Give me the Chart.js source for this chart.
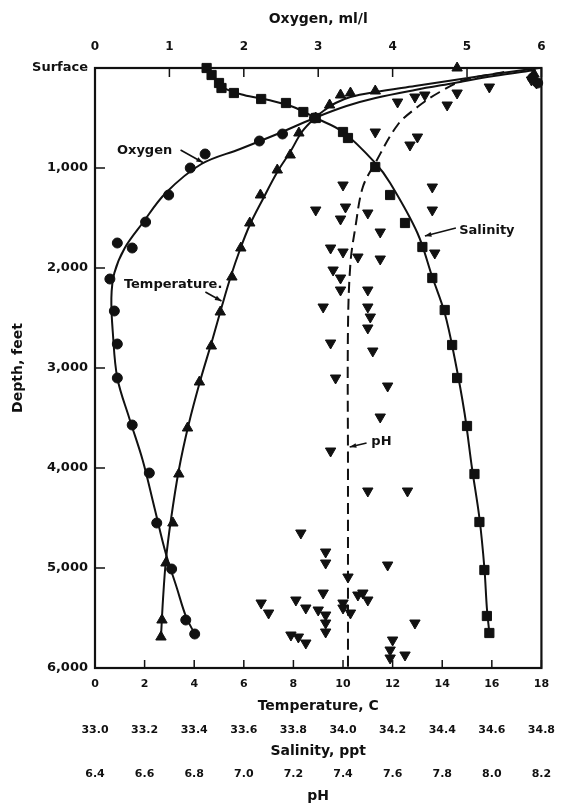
<!DOCTYPE html>
<html>
<head>
<meta charset="utf-8">
<title>Depth profiles: oxygen, temperature, salinity, pH</title>
<script src="https://cdn.jsdelivr.net/npm/chart.js@4.4.1/dist/chart.umd.min.js"></script>
<style>
  html, body { margin: 0; padding: 0; background: #fff; }
  canvas { display: block; }
</style>
</head>
<body>
<canvas id="profile" width="563" height="810"></canvas>
<script>
// ---- Axis ticks ----
const depthTicks = [0, 1000, 2000, 3000, 4000, 5000, 6000];
const depthLabels = ['Surface', '1,000', '2,000', '3,000', '4,000', '5,000', '6,000'];
const oxygenTicks = [0, 1, 2, 3, 4, 5, 6];
const temperatureTicks = [0, 2, 4, 6, 8, 10, 12, 14, 16, 18];
const salinityTicks = [33.0, 33.2, 33.4, 33.6, 33.8, 34.0, 34.2, 34.4, 34.6, 34.8];
const phTicks = [6.4, 6.6, 6.8, 7.0, 7.2, 7.4, 7.6, 7.8, 8.0, 8.2];

// ---- Oxygen, ml/l ----
const oxygenObs      = [5.95, 5.88, 2.95, 2.52, 2.21, 1.48, 1.28, 0.99, 0.68, 0.30, 0.50, 0.20, 0.26, 0.30, 0.30, 0.50, 0.73, 0.83, 1.03, 1.22, 1.34];
const oxygenObsDepth = [150, 100, 500, 660, 730, 860, 1000, 1270, 1540, 1750, 1800, 2110, 2430, 2760, 3100, 3570, 4050, 4550, 5010, 5520, 5660];
const oxygenCurve      = [5.92, 5.36, 4.83, 4.30, 3.77, 3.38, 2.95, 2.45, 1.95, 1.43, 0.95, 0.64, 0.40, 0.26, 0.22, 0.24, 0.30, 0.46, 0.64, 0.80, 0.95, 1.10, 1.22, 1.34];
const oxygenCurveDepth = [20, 80, 150, 220, 300, 380, 500, 660, 810, 960, 1250, 1550, 1800, 2050, 2300, 2650, 3100, 3500, 3920, 4400, 4850, 5200, 5480, 5660];

// ---- Temperature, C ----
const temperatureObs      = [14.6, 17.7, 11.3, 10.3, 9.9, 9.46, 8.9, 8.22, 7.87, 7.35, 6.67, 6.24, 5.88, 5.52, 5.05, 4.69, 4.21, 3.73, 3.38, 3.14, 2.86, 2.70, 2.66];
const temperatureObsDepth = [0, 60, 230, 250, 270, 370, 500, 650, 870, 1020, 1270, 1550, 1800, 2090, 2440, 2780, 3140, 3600, 4060, 4550, 4950, 5520, 5690];
const temperatureCurve      = [17.9, 16.1, 14.5, 12.9, 11.3, 10.3, 9.7, 9.26, 8.86, 8.34, 7.87, 7.35, 6.75, 6.24, 5.84, 5.48, 5.13, 4.73, 4.25, 3.77, 3.38, 3.06, 2.86, 2.74, 2.66];
const temperatureCurveDepth = [0, 60, 120, 180, 240, 290, 350, 420, 500, 640, 840, 1040, 1320, 1570, 1820, 2080, 2370, 2720, 3120, 3570, 4020, 4520, 4920, 5320, 5690];

// ---- Salinity, ppt ----
const salinityObs      = [33.45, 33.47, 33.50, 33.51, 33.56, 33.67, 33.77, 33.84, 33.89, 34.00, 34.02, 34.13, 34.19, 34.25, 34.32, 34.36, 34.41, 34.44, 34.46, 34.50, 34.53, 34.55, 34.57, 34.58, 34.59];
const salinityObsDepth = [0, 70, 150, 200, 250, 310, 350, 440, 500, 640, 700, 990, 1270, 1550, 1790, 2100, 2420, 2770, 3100, 3580, 4060, 4540, 5020, 5480, 5650];
const salinityCurve      = [33.45, 33.48, 33.52, 33.60, 33.70, 33.80, 33.89, 34.00, 34.13, 34.19, 34.30, 34.36, 34.41, 34.45, 34.49, 34.52, 34.55, 34.57, 34.58, 34.59];
const salinityCurveDepth = [0, 100, 200, 270, 320, 390, 500, 640, 950, 1150, 1650, 2090, 2450, 2900, 3450, 4000, 4500, 5000, 5400, 5650];

// ---- pH ----
const phObs = [8.16, 8.18, 7.99, 7.86, 7.82, 7.62, 7.69, 7.73,
  7.53, 7.70, 7.67, 7.40, 7.76, 7.29, 7.41, 7.39, 7.50, 7.76, 7.55, 7.35, 7.40, 7.46, 7.55, 7.77,
  7.36, 7.39, 7.39, 7.50, 7.32, 7.50, 7.51, 7.50, 7.35, 7.52, 7.37, 7.58, 7.55, 7.35, 7.50, 7.66,
  7.23, 7.33, 7.33, 7.42, 7.58, 7.32, 7.21, 7.25, 7.30, 7.33, 7.33, 7.33, 7.40, 7.40, 7.43, 7.46,
  7.48, 7.50, 7.69, 7.19, 7.22, 7.25, 7.60, 7.59, 7.59, 7.65, 7.07, 7.10];
const phObsDepth = [120, 150, 190, 250, 370, 340, 290, 270,
  640, 690, 770, 1170, 1190, 1420, 1390, 1510, 1450, 1420, 1640, 1800, 1840, 1890, 1910, 1850,
  2020, 2100, 2220, 2220, 2390, 2390, 2490, 2600, 2750, 2830, 3100, 3180, 3490, 3830, 4230, 4230,
  4650, 4840, 4950, 5090, 4970, 5250, 5320, 5400, 5420, 5470, 5550, 5640, 5350, 5400, 5450, 5270,
  5250, 5320, 5550, 5670, 5690, 5750, 5720, 5820, 5900, 5870, 5350, 5450];
const phCurve      = [8.05, 7.89, 7.79, 7.70, 7.62, 7.53, 7.48, 7.45, 7.43, 7.42, 7.42, 7.42];
const phCurveDepth = [40, 120, 240, 390, 570, 950, 1190, 1590, 1950, 2600, 4000, 6000];

// ---- build point lists ----
const pairs = (xs, ys) => xs.map((v, i) => ({ x: v, y: ys[i] }));

const INK = '#111';
const FONT = "'DejaVu Sans', sans-serif";

function curve(label, xs, ys, axis, dash) {
  return {
    type: 'line', label, data: pairs(xs, ys), xAxisID: axis, yAxisID: 'y',
    borderColor: INK, borderWidth: 2, borderDash: dash || [], tension: 0.35,
    pointRadius: 0, fill: false, clip: false, order: 2
  };
}
function marks(label, xs, ys, axis, style, radius, rotation) {
  return {
    type: 'scatter', label, data: pairs(xs, ys), xAxisID: axis, yAxisID: 'y',
    pointStyle: style, pointRadius: radius, pointRotation: rotation || 0,
    pointBackgroundColor: INK, pointBorderColor: INK, pointBorderWidth: 1,
    showLine: false, clip: false, order: 1
  };
}

const datasets = [
  curve('Oxygen curve', oxygenCurve, oxygenCurveDepth, 'xOxy'),
  marks('Oxygen', oxygenObs, oxygenObsDepth, 'xOxy', 'circle', 5),
  curve('Temperature curve', temperatureCurve, temperatureCurveDepth, 'xTemp'),
  marks('Temperature', temperatureObs, temperatureObsDepth, 'xTemp', 'triangle', 6),
  curve('Salinity curve', salinityCurve, salinityCurveDepth, 'xSal'),
  marks('Salinity', salinityObs, salinityObsDepth, 'xSal', 'rect', 6.5),
  curve('pH curve', phCurve, phCurveDepth, 'xPH', [11, 6]),
  marks('pH', phObs, phObsDepth, 'xPH', 'triangle', 6, 180)
];

// Curve name labels with short leader arrows (temperature / depth coordinates)
const curveLabels = [
  { text: 'Oxygen',       t: 2.0,  d: 830,  from: [3.45, 820],  to: [4.35, 945] },
  { text: 'Temperature.', t: 3.15, d: 2170, from: [4.45, 2240], to: [5.1, 2330] },
  { text: 'Salinity',     t: 15.8, d: 1630, from: [14.55, 1600], to: [13.3, 1680] },
  { text: 'pH',           t: 11.55, d: 3740, from: [10.95, 3750], to: [10.27, 3790] }
];

const frameAndTicks = {
  id: 'frameAndTicks',
  afterDatasetsDraw(chart) {
    const { ctx, chartArea: a, scales } = chart;
    ctx.save();
    ctx.strokeStyle = INK;
    ctx.lineCap = 'butt';
    // inward tick marks
    ctx.lineWidth = 1.5;
    ctx.beginPath();
    oxygenTicks.forEach(v => {
      const x = scales.xOxy.getPixelForValue(v);
      ctx.moveTo(x, a.top); ctx.lineTo(x, a.top + 9);
    });
    temperatureTicks.forEach(v => {
      const x = scales.xTemp.getPixelForValue(v);
      ctx.moveTo(x, a.bottom); ctx.lineTo(x, a.bottom - 8);
    });
    depthTicks.forEach(v => {
      const y = scales.y.getPixelForValue(v);
      ctx.moveTo(a.left, y); ctx.lineTo(a.left + 10, y);
    });
    ctx.stroke();
    // frame
    ctx.lineWidth = 2.2;
    ctx.strokeRect(a.left, a.top, a.right - a.left, a.bottom - a.top);

    // curve labels and leaders
    ctx.fillStyle = INK;
    ctx.font = "bold 13px " + FONT;
    ctx.textAlign = 'center';
    ctx.textBaseline = 'middle';
    const X = v => scales.xTemp.getPixelForValue(v);
    const Y = v => scales.y.getPixelForValue(v);
    curveLabels.forEach(l => {
      ctx.fillText(l.text, X(l.t), Y(l.d));
      const x0 = X(l.from[0]), y0 = Y(l.from[1]);
      const x1 = X(l.to[0]),   y1 = Y(l.to[1]);
      ctx.lineWidth = 1.6;
      ctx.beginPath(); ctx.moveTo(x0, y0); ctx.lineTo(x1, y1); ctx.stroke();
      const ang = Math.atan2(y1 - y0, x1 - x0);
      ctx.beginPath();
      ctx.moveTo(x1, y1);
      ctx.lineTo(x1 - 7 * Math.cos(ang - 0.35), y1 - 7 * Math.sin(ang - 0.35));
      ctx.lineTo(x1 - 7 * Math.cos(ang + 0.35), y1 - 7 * Math.sin(ang + 0.35));
      ctx.closePath(); ctx.fill();
    });
    ctx.restore();
  }
};

const tickFont = { family: FONT, size: 11, weight: 'bold' };
const titleFont = { family: FONT, size: 14, weight: 'bold' };
const fixedTicks = list => (s => { s.ticks = list.map(v => ({ value: v })); });

function bottomAxis(min, max, list, title, weight, height, tickPad, titlePad, fmt) {
  return {
    type: 'linear', position: 'bottom', min, max, weight,
    afterBuildTicks: fixedTicks(list),
    afterFit: s => { s.height = height; },
    grid: { display: false, drawTicks: false }, border: { display: false },
    ticks: { color: INK, font: tickFont, padding: tickPad, maxRotation: 0, autoSkip: false,
             callback: v => fmt(v) },
    title: { display: true, text: title, color: INK, font: titleFont,
             padding: { top: 0, bottom: titlePad } }
  };
}

new Chart(document.getElementById('profile'), {
  type: 'scatter',
  data: { datasets },
  options: {
    responsive: false,
    animation: false,
    events: [],
    layout: { padding: { left: 0, right: 15, top: 0, bottom: 0 } },
    plugins: { legend: { display: false }, tooltip: { enabled: false } },
    scales: {
      y: {
        type: 'linear', position: 'left', reverse: true, min: 0, max: 6000,
        afterBuildTicks: fixedTicks(depthTicks),
        afterFit: s => { s.width = 95; },
        grid: { display: false, drawTicks: false }, border: { display: false },
        ticks: { color: INK, font: { family: FONT, size: 13, weight: 'bold' }, padding: 7,
                 callback: (v) => depthLabels[depthTicks.indexOf(v)] },
        title: { display: true, text: 'Depth, feet', color: INK, font: titleFont,
                 padding: { top: 10, bottom: 0 } }
      },
      xOxy: {
        type: 'linear', position: 'top', min: 0, max: 6,
        afterBuildTicks: fixedTicks(oxygenTicks),
        afterFit: s => { s.height = 68; },
        grid: { display: false, drawTicks: false }, border: { display: false },
        ticks: { color: INK, font: { family: FONT, size: 12, weight: 'bold' }, padding: 14,
                 maxRotation: 0, autoSkip: false, callback: v => String(v) },
        title: { display: true, text: 'Oxygen, ml/l', color: INK, font: titleFont,
                 padding: { top: 11, bottom: 0 } }
      },
      xTemp: bottomAxis(0, 18, temperatureTicks, 'Temperature, C', 1, 48, 10, 1, v => String(v)),
      xSal:  bottomAxis(33.0, 34.8, salinityTicks, 'Salinity, ppt', 2, 45, 8, 1, v => v.toFixed(1)),
      xPH:   bottomAxis(6.4, 8.2, phTicks, 'pH', 3, 49, 7, 5, v => v.toFixed(1))
    }
  },
  plugins: [frameAndTicks]
});
</script>
</body>
</html>
